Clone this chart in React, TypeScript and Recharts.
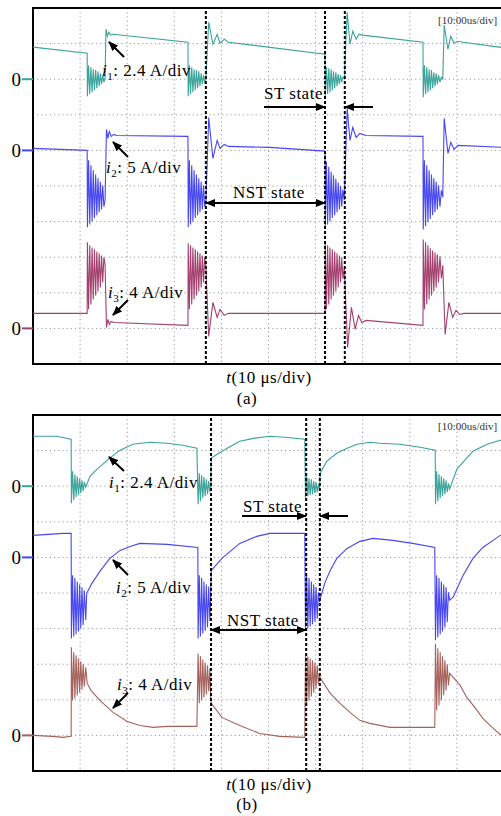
import React from "react";
import { LineChart, Line, XAxis, YAxis, CartesianGrid, ReferenceLine, ReferenceArea } from "recharts";

type Pt = [number, number];

// time in µs, current in A

// (a) hard-switched case
const aI1: Pt[] = [
  [0, 2.16], [11.5, 1.75],
  [11.55, -1.15], [11.8, 0.94], [12.05, -1.0], [12.3, 0.81], [12.55, -0.88], [12.8, 0.67], [13.05, -0.74], [13.3, 0.61],
  [13.55, -0.61], [13.8, 0.54], [14.05, -0.47], [14.3, 0.4], [14.55, -0.34], [14.8, 0.27], [15.05, -0.2], [15.3, 0.07],
  [15.5, 3.37], [15.8, 2.9], [16.1, 3.17], [16.5, 2.97], [17.0, 3.03],
  [32.9, 2.49],
  [32.95, -1.15], [33.2, 0.94], [33.45, -1.0], [33.7, 0.81], [33.95, -0.88], [34.2, 0.67], [34.45, -0.74], [34.7, 0.61],
  [34.95, -0.61], [35.2, 0.54], [35.45, -0.47], [35.7, 0.4], [35.95, -0.34], [36.2, 0.27], [36.45, -0.2], [36.7, 0.0],
  [37.3, 3.84], [38.2, 2.36], [39.1, 3.03], [39.7, 2.43], [40.6, 2.7], [41.5, 2.49],
  [62.0, 1.69],
  [62.05, -1.15], [62.3, 0.81], [62.55, -1.0], [62.8, 0.74], [63.05, -0.88], [63.3, 0.67], [63.55, -0.74], [63.8, 0.54],
  [64.05, -0.61], [64.3, 0.47], [64.55, -0.47], [64.8, 0.34], [65.05, -0.34], [65.3, 0.27], [65.55, -0.2], [65.8, 0.13], [66.1, 0.07],
  [66.7, 4.52], [67.3, 2.36], [67.9, 3.24], [68.6, 2.7], [69.2, 3.03], [69.9, 2.97],
  [82.8, 2.49],
  [82.85, -1.21], [83.1, 0.94], [83.35, -1.0], [83.6, 0.81], [83.85, -0.88], [84.1, 0.67], [84.35, -0.74], [84.6, 0.61],
  [84.85, -0.61], [85.1, 0.47], [85.35, -0.47], [85.6, 0.4], [85.85, -0.34], [86.1, 0.27], [86.4, -0.2], [86.7, 0.13], [87.0, 0.0],
  [87.3, 3.64], [88.1, 2.02], [88.7, 2.9], [89.4, 2.43], [90.2, 2.56], [91.3, 2.49],
  [100, 2.12],
];

const aI2: Pt[] = [
  [0, 0.28], [11.5, 0.0],
  [11.55, -10.8], [11.8, -1.4], [12.05, -10.4], [12.3, -2.1], [12.55, -10.0], [12.8, -2.8], [13.05, -9.5], [13.3, -3.4],
  [13.55, -9.1], [13.8, -3.9], [14.05, -8.7], [14.3, -4.4], [14.55, -8.3], [14.8, -4.9], [15.05, -7.9], [15.3, -7.0],
  [15.6, 2.95], [15.9, 1.68], [16.2, 2.67], [16.6, 1.97], [17.2, 2.25], [17.8, 2.1],
  [32.9, 1.97],
  [32.95, -10.8], [33.2, -1.4], [33.45, -10.4], [33.7, -2.1], [33.95, -10.0], [34.2, -2.8], [34.45, -9.5], [34.7, -3.4],
  [34.95, -9.1], [35.2, -3.9], [35.45, -8.7], [35.7, -4.4], [35.95, -8.3], [36.2, -4.9], [36.45, -7.9], [36.7, -7.3],
  [37.3, 4.63], [38.2, -1.12], [39.1, 1.4], [39.7, 0.28], [40.6, 0.84], [41.5, 0.56],
  [50.3, 0.42], [62.0, -0.1],
  [62.05, -10.8], [62.3, -1.6], [62.55, -10.4], [62.8, -2.3], [63.05, -10.0], [63.3, -3.0], [63.55, -9.5], [63.8, -3.5],
  [64.05, -9.1], [64.3, -4.0], [64.55, -8.7], [64.8, -4.5], [65.05, -8.3], [65.3, -5.0], [65.55, -7.9], [65.8, -5.5], [66.1, -7.0],
  [66.7, 5.9], [67.3, 1.4], [67.9, 3.23], [68.6, 1.83], [69.4, 2.39], [70.7, 2.1],
  [82.8, 1.97],
  [82.85, -11.1], [83.1, -1.4], [83.35, -10.6], [83.6, -2.1], [83.85, -10.1], [84.1, -2.8], [84.35, -9.6], [84.6, -3.4],
  [84.85, -9.1], [85.1, -3.9], [85.35, -8.7], [85.6, -4.4], [85.85, -8.3], [86.1, -4.9], [86.4, -7.9], [86.7, -5.6], [87.0, -6.6],
  [87.3, 4.49], [88.1, -0.42], [88.7, 1.12], [89.4, 0.14], [90.2, 0.7],
  [100, 0.42],
];

const aI3: Pt[] = [
  [0, 1.69], [11.5, 1.69],
  [11.55, 9.67], [11.8, 2.14], [12.05, 9.33], [12.3, 2.7], [12.55, 9.1], [12.8, 3.26], [13.05, 8.88], [13.3, 3.7],
  [13.55, 8.65], [13.8, 4.16], [14.05, 8.43], [14.3, 4.6], [14.55, 8.2], [14.8, 5.17], [15.05, 7.98], [15.3, 7.2],
  [15.6, 0.11], [15.9, 1.01], [16.2, 0.45], [16.6, 0.79], [17.2, 0.67],
  [32.9, 0.34],
  [32.95, 9.56], [33.2, 2.14], [33.45, 9.33], [33.7, 2.7], [33.95, 9.1], [34.2, 3.26], [34.45, 8.88], [34.7, 3.7],
  [34.95, 8.65], [35.2, 4.16], [35.45, 8.43], [35.7, 4.6], [35.95, 8.2], [36.2, 5.17], [36.45, 7.98], [36.7, 6.97],
  [37.3, -0.9], [38.2, 2.92], [39.1, 1.24], [39.7, 2.14], [40.6, 1.46], [41.5, 1.69],
  [62.0, 1.69],
  [62.05, 9.56], [62.3, 2.14], [62.55, 9.33], [62.8, 2.7], [63.05, 9.1], [63.3, 3.26], [63.55, 8.88], [63.8, 3.7],
  [64.05, 8.65], [64.3, 4.16], [64.55, 8.43], [64.8, 4.6], [65.05, 8.2], [65.3, 5.17], [65.55, 7.98], [65.8, 5.6], [66.1, 6.86],
  [66.8, -2.14], [67.6, 2.36], [68.4, -0.11], [69.1, 1.46], [69.8, 0.67], [70.7, 0.9],
  [82.8, 0.34],
  [82.85, 10.0], [83.1, 2.14], [83.35, 9.67], [83.6, 2.7], [83.85, 9.33], [84.1, 3.26], [84.35, 9.0], [84.6, 3.7],
  [84.85, 8.76], [85.1, 4.16], [85.35, 8.54], [85.6, 4.6], [85.85, 8.32], [86.1, 5.17], [86.4, 8.1], [86.7, 5.6], [87.0, 7.08],
  [87.5, -0.67], [88.3, 2.92], [89.1, 1.24], [89.8, 2.02], [90.6, 1.57], [91.5, 1.69],
  [100, 1.69],
];

// (b) soft-switched case
const bI1: Pt[] = [
  [0, 3.37], [5.0, 3.37], [8.1, 3.17],
  [8.15, -1.15], [8.4, 1.01], [8.65, -0.94], [8.9, 0.81], [9.15, -0.74], [9.4, 0.67], [9.65, -0.61], [9.9, 0.54],
  [10.15, -0.47], [10.4, 0.4], [10.65, -0.34], [10.9, 0.27], [11.2, -0.07],
  [12.1, 0.67], [13.6, 1.15], [16.3, 1.89], [18.5, 2.43], [21.2, 2.83], [24.8, 2.96], [28.5, 2.9], [31.8, 2.76], [34.8, 2.56],
  [35.05, -1.21], [35.3, 0.88], [35.55, -1.01], [35.8, 0.74], [36.05, -0.81], [36.3, 0.61], [36.55, -0.67], [36.8, 0.47],
  [37.05, -0.54], [37.3, 0.34], [37.55, -0.4], [37.75, -0.07],
  [37.85, 1.89], [40.1, 2.36], [43.9, 3.03], [47.1, 3.24], [50.3, 3.37], [53.5, 3.3], [57.7, 3.17],
  [57.85, -0.81], [58.1, 0.67], [58.35, -0.67], [58.6, 0.54], [58.85, -0.61], [59.1, 0.47], [59.35, -0.54], [59.6, 0.34],
  [59.85, -0.47], [60.1, 0.27], [60.35, -0.4], [60.6, 0.13], [60.85, -0.2],
  [60.95, 0.88], [62.4, 1.69], [64.5, 2.22], [66.7, 2.56], [68.8, 2.83], [71.5, 2.96], [73.7, 2.9], [77.9, 2.83], [82.2, 2.63], [85.4, 2.43],
  [85.45, -1.21], [85.7, 1.01], [85.95, -1.01], [86.2, 0.81], [86.45, -0.81], [86.7, 0.67], [86.95, -0.67], [87.2, 0.54],
  [87.45, -0.54], [87.7, 0.4], [87.95, -0.4], [88.2, 0.2], [88.45, -0.2],
  [90.0, 1.15], [93.4, 2.36], [96.4, 2.83], [99.2, 3.1], [100, 3.13],
];

const bI2: Pt[] = [
  [0, 3.09], [6.4, 3.37], [8.1, 3.37],
  [8.15, -11.4], [8.4, -2.5], [8.65, -11.1], [8.9, -2.9], [9.15, -10.8], [9.4, -3.4], [9.65, -10.4], [9.9, -3.8],
  [10.15, -10.0], [10.4, -4.2], [10.65, -9.5], [10.9, -4.6], [11.2, -8.8], [11.4, -5.05],
  [12.5, -3.65], [14.2, -1.97], [16.3, -0.14], [18.5, 0.98], [20.6, 1.54], [22.7, 1.97], [28.5, 1.83], [35.0, 1.4],
  [35.05, -11.4], [35.3, -2.5], [35.55, -11.1], [35.8, -2.9], [36.05, -10.7], [36.3, -3.4], [36.55, -10.3], [36.8, -3.8],
  [37.05, -9.8], [37.3, -4.1], [37.55, -8.9], [37.75, -4.6],
  [37.85, -1.83], [40.1, -0.14], [43.9, 1.97], [47.5, 2.95], [50.3, 3.37], [57.7, 3.37],
  [57.85, -10.2], [58.1, -2.5], [58.35, -10.0], [58.6, -2.9], [58.85, -9.7], [59.1, -3.4], [59.35, -9.4], [59.6, -3.8],
  [59.85, -9.0], [60.1, -4.2], [60.35, -8.6], [60.6, -4.9], [60.85, -6.3],
  [60.9, -6.0], [62.0, -3.5], [63.1, -1.83], [64.5, -0.14], [66.7, 1.26], [69.4, 2.25], [72.2, 2.67], [76.4, 2.39], [80.6, 1.97], [85.3, 1.4],
  [85.45, -11.65], [85.7, -2.5], [85.95, -11.2], [86.2, -2.9], [86.45, -10.8], [86.7, -3.4], [86.95, -10.4], [87.2, -3.8],
  [87.45, -9.8], [87.7, -4.2], [87.95, -9.1], [88.2, -4.9], [88.45, -6.0],
  [89.2, -5.6], [91.3, -2.53], [93.4, -0.14], [95.5, 1.4], [97.7, 2.39], [99.2, 3.09], [100, 3.2],
];

const bI3: Pt[] = [
  [0, 0.0], [4.2, -0.11], [6.4, -0.22], [8.1, -0.11],
  [8.15, 9.9], [8.4, 3.93], [8.65, 9.33], [8.9, 4.16], [9.15, 9.0], [9.4, 4.5], [9.65, 8.65], [9.9, 4.83],
  [10.15, 8.32], [10.4, 5.17], [10.65, 7.98], [10.9, 5.5], [11.2, 7.64], [11.5, 5.84],
  [12.3, 5.06], [14.2, 3.93], [17.0, 2.59], [20.0, 1.57], [22.7, 1.12], [25.5, 0.9], [28.5, 1.01], [34.8, 1.01],
  [35.05, 9.2], [35.3, 3.6], [35.55, 8.9], [35.8, 3.93], [36.05, 8.54], [36.3, 4.27], [36.55, 8.2], [36.8, 4.6],
  [37.05, 7.87], [37.3, 4.95], [37.55, 7.53], [37.75, 3.93],
  [37.85, 3.6], [40.1, 2.02], [43.9, 1.12], [48.1, 0.22], [52.4, -0.11], [57.7, -0.22],
  [57.85, 9.0], [58.1, 3.37], [58.35, 8.9], [58.6, 3.93], [58.85, 8.65], [59.1, 4.38], [59.35, 8.43], [59.6, 4.83],
  [59.85, 8.2], [60.1, 5.28], [60.35, 7.87], [60.6, 5.73], [60.85, 6.74],
  [60.9, 6.52], [63.1, 4.72], [65.2, 3.6], [67.3, 2.59], [69.4, 1.69], [71.5, 1.35], [75.8, 0.9], [85.3, 0.9],
  [85.45, 10.3], [85.7, 2.81], [85.95, 9.78], [86.2, 3.37], [86.45, 9.33], [86.7, 3.93], [86.95, 8.88], [87.2, 4.5],
  [87.45, 8.43], [87.7, 5.06], [87.95, 7.98], [88.2, 5.62], [88.45, 6.97],
  [90.7, 5.62], [92.1, 4.27], [94.0, 3.0], [95.5, 1.91], [97.5, 0.9], [99.2, 0.11], [100, 0.0],
];

// dashed state boundaries (µs)
const aMarks = [36.7, 62.0, 66.2];
const bMarks = [37.8, 58.0, 60.9];

const timeTicks = [0, 10, 20, 30, 40, 50, 60, 70, 80, 90, 100];
const divTicks = [0, 1, 2, 3, 4, 5, 6, 7, 8, 9, 10];

// zero level (division) and A/div of each channel
const zeroDiv = { i1: 8, i2: 6, i3: 1 };
const ampPerDiv = { i1: 2.4, i2: 5, i3: 4 };

const SERIF = "'Liberation Serif', 'Times New Roman', serif";

const toRows = (pts: Pt[], zero: number, scale: number) =>
  pts.map(([t, a]) => ({ t, v: zero + a / scale }));

interface ScopeProps {
  i1: Pt[];
  i2: Pt[];
  i3: Pt[];
  marks: number[];
  colors: [string, string, string];
  top: number;
}

const Scope: React.FC<ScopeProps> = ({ i1, i2, i3, marks, colors, top }) => {
  const zeroColors: Record<number, string> = {
    [zeroDiv.i1]: colors[0],
    [zeroDiv.i2]: colors[1],
    [zeroDiv.i3]: colors[2],
  };
  const ZeroTick = (props: any) => {
    const { x, y, payload } = props;
    const c = zeroColors[payload.value];
    if (!c) return <g />;
    return (
      <g>
        <line x1={x - 11} x2={x} y1={y} y2={y} stroke={c} strokeWidth={2} />
        <text x={x - 12} y={y} dy="0.35em" textAnchor="end" fontSize={19} fontFamily={SERIF} fill="#000">
          0
        </text>
      </g>
    );
  };
  const series = [
    { data: toRows(i1, zeroDiv.i1, ampPerDiv.i1), color: colors[0] },
    { data: toRows(i2, zeroDiv.i2, ampPerDiv.i2), color: colors[1] },
    { data: toRows(i3, zeroDiv.i3, ampPerDiv.i3), color: colors[2] },
  ];
  return (
    <div style={{ position: "absolute", left: 0, top }}>
      <LineChart width={508} height={359} margin={{ top: 1, right: 4, bottom: 2, left: 8 }}>
        <CartesianGrid stroke="#9a9a9a" strokeDasharray="1.2 3" />
        <XAxis type="number" dataKey="t" domain={[0, 100]} ticks={timeTicks} hide allowDataOverflow />
        <YAxis
          type="number"
          domain={[0, 10]}
          ticks={divTicks}
          width={25}
          axisLine={false}
          tickLine={false}
          tickSize={0}
          tickMargin={0}
          tick={ZeroTick}
          interval={0}
          allowDataOverflow
        />
        {series.map((s, k) => (
          <Line
            key={k}
            data={s.data}
            dataKey="v"
            type="linear"
            stroke={s.color}
            strokeWidth={1.1}
            dot={false}
            activeDot={false}
            isAnimationActive={false}
          />
        ))}
        {marks.map((m) => (
          <ReferenceLine key={m} x={m} stroke="#000" strokeWidth={2} strokeDasharray="3 2" />
        ))}
        <ReferenceArea x1={0} x2={100} y1={0} y2={10} fill="none" fillOpacity={0} stroke="#000" strokeWidth={2} />
      </LineChart>
    </div>
  );
};

const Label: React.FC<{ x: number; y: number; sub: string; rest: string }> = ({ x, y, sub, rest }) => (
  <text x={x} y={y} fontSize={17} fontFamily={SERIF} fill="#000" letterSpacing={0.5}>
    <tspan fontStyle="italic">i</tspan>
    <tspan fontSize={11} dy={4}>{sub}</tspan>
    <tspan dy={-4}>{rest}</tspan>
  </text>
);

const Arrow: React.FC<{ x1: number; y1: number; x2: number; y2: number; both?: boolean }> = ({ x1, y1, x2, y2, both }) => (
  <line
    x1={x1}
    y1={y1}
    x2={x2}
    y2={y2}
    stroke="#000"
    strokeWidth={2}
    markerEnd="url(#ah)"
    markerStart={both ? "url(#ahs)" : undefined}
  />
);

const Plain: React.FC<{ x: number; y: number; text: string; anchor?: "start" | "middle" | "end" }> = ({ x, y, text, anchor }) => (
  <text x={x} y={y} fontSize={17} fontFamily={SERIF} fill="#000" letterSpacing={0.5} textAnchor={anchor || "start"}>
    {text}
  </text>
);

const Caption: React.FC<{ y: number }> = ({ y }) => (
  <text x={269} y={y} fontSize={17} fontFamily={SERIF} fill="#000" textAnchor="middle" letterSpacing={0.5}>
    <tspan fontStyle="italic">t</tspan>
    <tspan>(10 μs/div)</tspan>
  </text>
);

const ScopeTag: React.FC<{ y: number }> = ({ y }) => (
  <text x={438} y={y} dy="0.35em" fontSize={11} fontFamily={SERIF} fill="#333">
    [10:00us/div]
  </text>
);

export default function App() {
  return (
    <div style={{ position: "fixed", left: 0, top: 0, width: 501, height: 816, overflow: "hidden", background: "#fff" }}>
      <Scope i1={aI1} i2={aI2} i3={aI3} marks={aMarks} colors={["#3aa39a", "#4646f2", "#a3406f"]} top={7} />
      <Scope i1={bI1} i2={bI2} i3={bI3} marks={bMarks} colors={["#3aa39a", "#4646f2", "#a5615b"]} top={414} />
      <svg width={501} height={816} style={{ position: "absolute", left: 0, top: 0, pointerEvents: "none" }}>
        <defs>
          <marker id="ah" viewBox="0 0 10 8" refX={9} refY={4} markerWidth={10} markerHeight={8} markerUnits="userSpaceOnUse" orient="auto">
            <path d="M0,0 L10,4 L0,8 z" fill="#000" />
          </marker>
          <marker id="ahs" viewBox="0 0 10 8" refX={9} refY={4} markerWidth={10} markerHeight={8} markerUnits="userSpaceOnUse" orient="auto-start-reverse">
            <path d="M0,0 L10,4 L0,8 z" fill="#000" />
          </marker>
        </defs>

        {/* (a) */}
        <ScopeTag y={20} />
        <Label x={102} y={76} sub="1" rest=": 2.4 A/div" />
        <Arrow x1={124} y1={57} x2={109} y2={42} />
        <Label x={106} y={173} sub="2" rest=": 5 A/div" />
        <Arrow x1={128} y1={157} x2={113} y2={142} />
        <Label x={108} y={298} sub="3" rest=": 4 A/div" />
        <Arrow x1={128} y1={300} x2={113} y2={315} />
        <Plain x={264} y={99} text="ST state" />
        <Arrow x1={264} y1={107} x2={325} y2={107} />
        <Arrow x1={373} y1={107} x2={345} y2={107} />
        <Plain x={233} y={198} text="NST state" />
        <Arrow x1={206} y1={203} x2={325} y2={203} both />
        <Caption y={383} />
        <Plain x={247} y={404} text="(a)" anchor="middle" />

        {/* (b) */}
        <ScopeTag y={426} />
        <Label x={109} y={488} sub="1" rest=": 2.4 A/div" />
        <Arrow x1={124} y1={471} x2={109} y2={457} />
        <Label x={116} y={593} sub="2" rest=": 5 A/div" />
        <Arrow x1={128} y1={575} x2={113} y2={560} />
        <Label x={117} y={690} sub="3" rest=": 4 A/div" />
        <Arrow x1={128} y1={693} x2={113} y2={708} />
        <Plain x={243} y={512} text="ST state" />
        <Arrow x1={242} y1={516} x2={306} y2={516} />
        <Arrow x1={348} y1={516} x2={320} y2={516} />
        <Plain x={227} y={626} text="NST state" />
        <Arrow x1={211} y1={630} x2={306} y2={630} both />
        <Caption y={790} />
        <Plain x={247} y={810} text="(b)" anchor="middle" />
      </svg>
    </div>
  );
}
